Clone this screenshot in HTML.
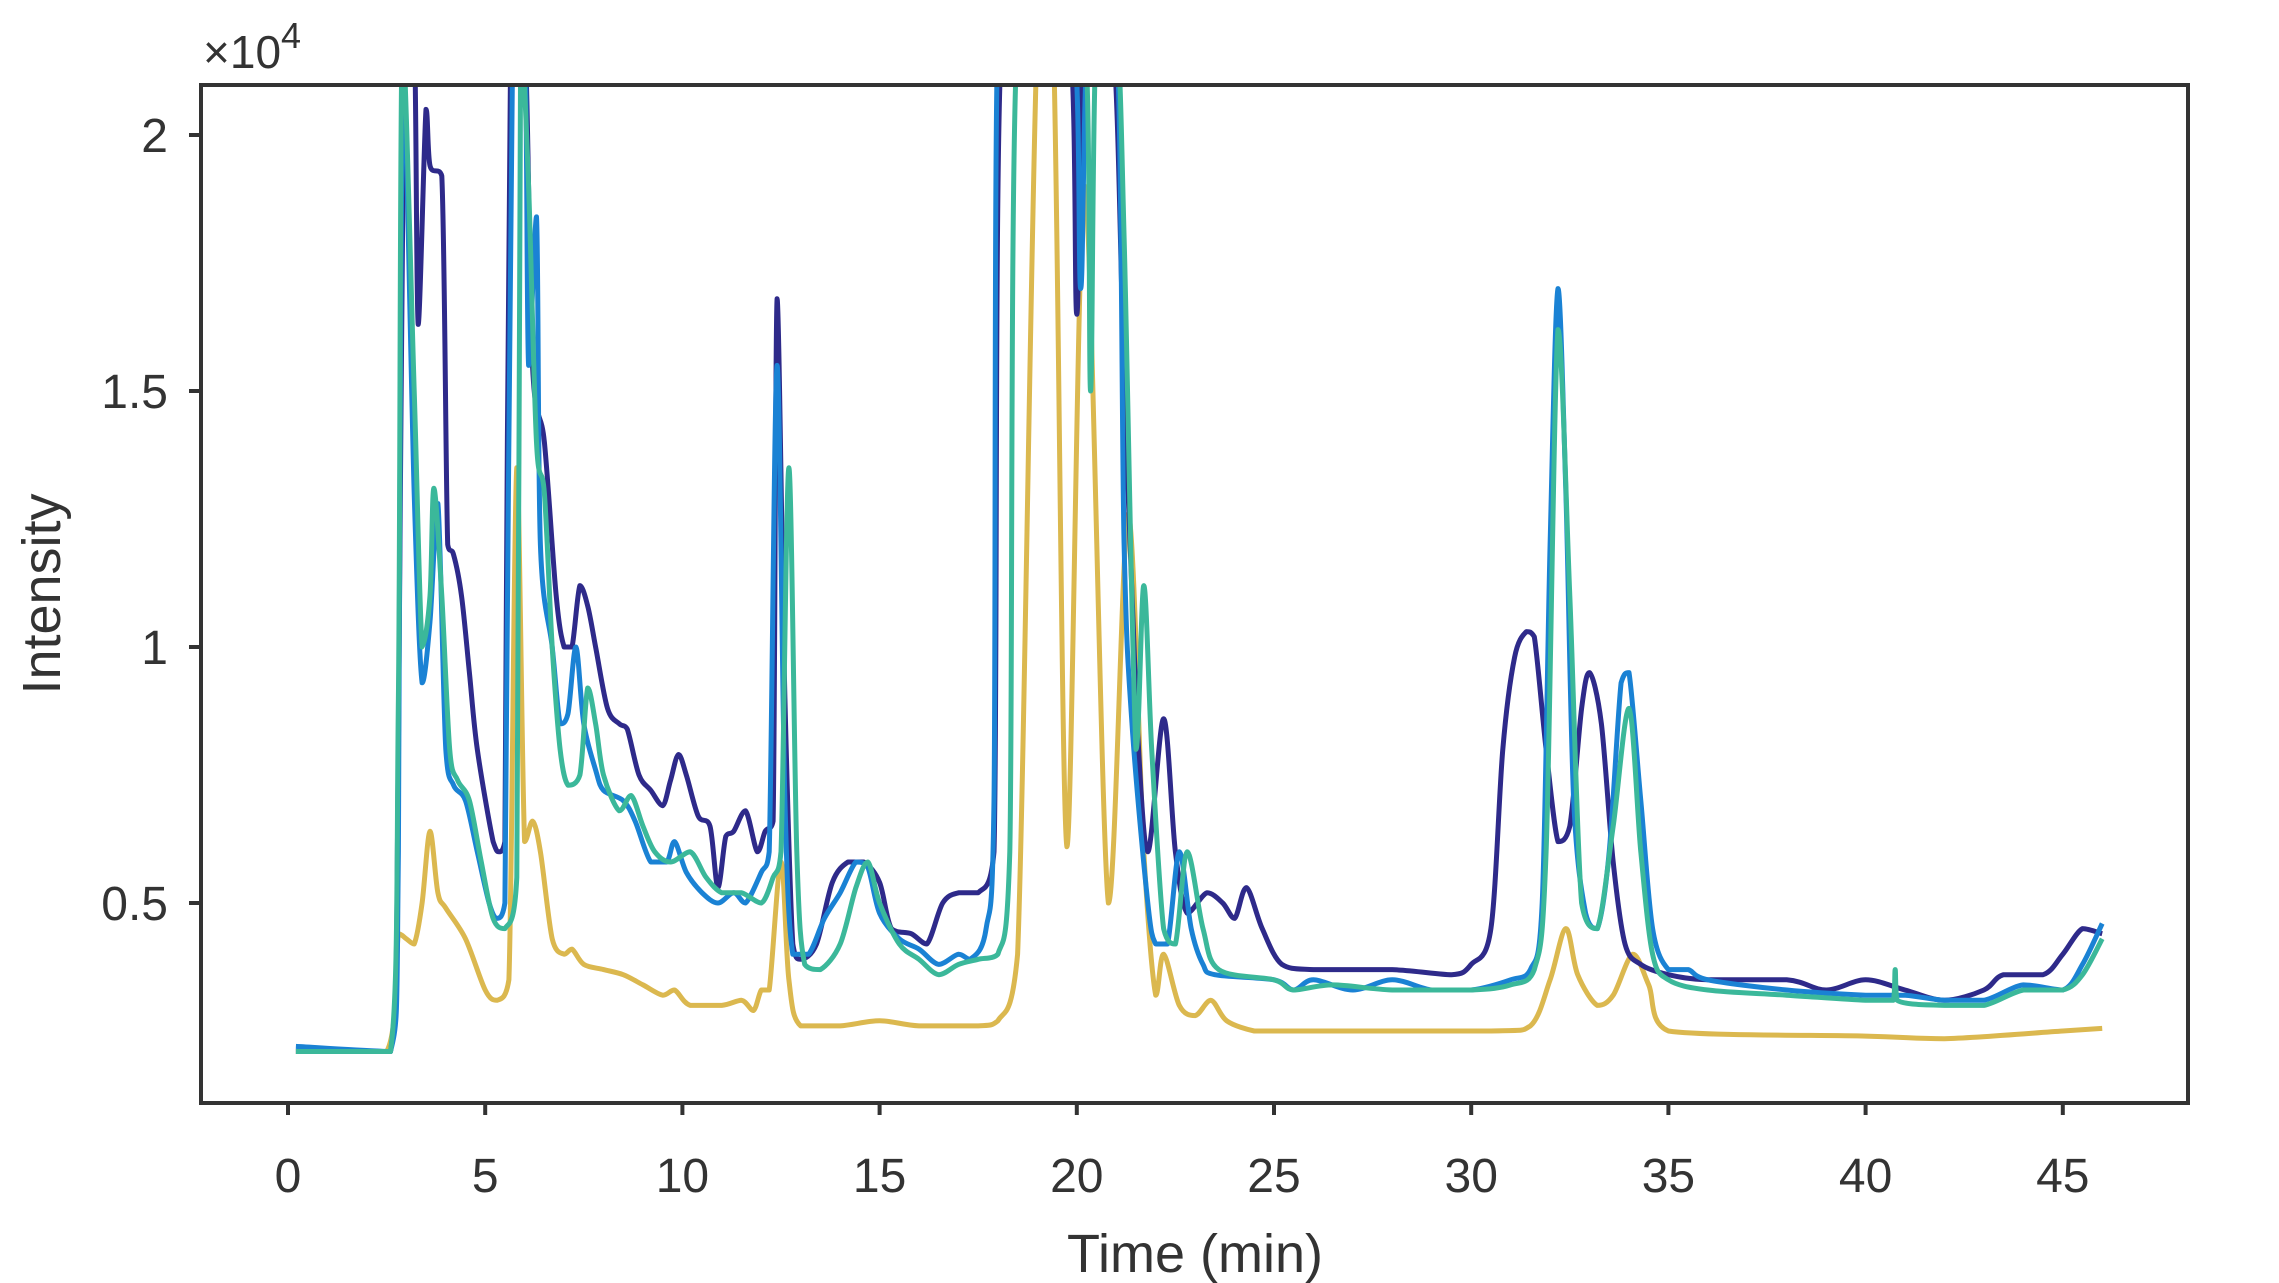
<!DOCTYPE html>
<html><head><meta charset="utf-8"><style>
html,body{margin:0;padding:0;background:#fff;}
svg{display:block;font-family:"Liberation Sans",sans-serif;}
</style></head><body>
<svg id="chart" width="2279" height="1283" viewBox="0 0 2279 1283" xmlns="http://www.w3.org/2000/svg">
<defs><clipPath id="plotclip"><rect x="203" y="87" width="1983" height="1014"/></clipPath></defs>
<g id="series" clip-path="url(#plotclip)"></g>
<rect x="201" y="85" width="1987" height="1018" fill="none" stroke="#333" stroke-width="4"/>
<g id="xticks"></g>
<g id="yticks"></g>
<text x="203" y="68" font-size="46" fill="#333">×10<tspan font-size="36" dy="-20">4</tspan></text>
<text x="1195" y="1272" font-size="54" fill="#333" text-anchor="middle">Time (min)</text>
<text transform="translate(60,594) rotate(-90)" font-size="54" fill="#333" text-anchor="middle">Intensity</text>
</svg>
<script>
const xTicks=[0,5,10,15,20,25,30,35,40,45];
const yTicks=[0.5,1,1.5,2];
const yTickLabels=["0.5","1","1.5","2"];
const goldT=[0.2,2.5,2.8,3.0,3.2,3.4,3.6,3.8,4.0,4.5,5.0,5.3,5.6,5.8,6.0,6.2,6.4,6.7,7.0,7.2,7.5,8.0,8.5,9.0,9.5,9.8,10.2,11,11.5,11.8,12.0,12.2,12.5,12.7,13.0,14,15,16,17.5,18,18.5,19.0,19.4,19.75,20.2,20.8,21.3,21.7,22.0,22.2,22.6,23.0,23.4,23.8,24.5,25,30.5,31.5,32.0,32.4,32.7,33.2,33.6,34.1,34.5,35,40,42,45,46];
const goldV=[0.21,0.21,0.44,0.43,0.42,0.5,0.64,0.52,0.49,0.43,0.33,0.31,0.35,1.35,0.62,0.66,0.6,0.43,0.4,0.41,0.38,0.37,0.36,0.34,0.32,0.33,0.3,0.3,0.31,0.29,0.33,0.33,0.58,0.35,0.26,0.26,0.27,0.26,0.26,0.27,0.4,2.2,2.2,0.61,1.9,0.5,1.26,0.6,0.32,0.4,0.3,0.28,0.31,0.27,0.25,0.25,0.25,0.26,0.35,0.45,0.36,0.3,0.32,0.4,0.34,0.25,0.24,0.235,0.25,0.255];
const navyT=[0.2,2.6,2.8,2.95,3.2,3.3,3.5,3.6,3.9,4.05,4.2,4.4,4.6,4.8,5.2,5.35,5.5,5.65,6.0,6.2,6.5,6.8,7.0,7.2,7.4,7.6,7.8,8.1,8.4,8.6,8.9,9.2,9.5,9.7,9.9,10.1,10.4,10.7,10.9,11.1,11.3,11.6,11.9,12.1,12.3,12.4,12.6,12.8,13.0,13.4,13.8,14.2,14.6,15.0,15.3,15.8,16.2,16.6,17.0,17.5,17.9,18.1,19.8,20.0,20.2,20.9,21.2,21.5,21.8,22.2,22.5,22.8,23.3,23.7,24.0,24.3,24.7,25.2,26,28,29.5,30,30.5,30.8,31.1,31.4,31.6,31.9,32.2,32.5,32.8,33.0,33.3,33.6,33.9,34.3,35,36,38,39,40,41,42,43,43.5,44.5,45,45.5,46];
const navyV=[0.21,0.21,0.8,2.2,2.2,1.63,2.05,1.94,1.92,1.2,1.18,1.1,0.95,0.8,0.62,0.6,0.62,2.2,2.2,1.55,1.4,1.1,1.0,1.0,1.12,1.08,1.0,0.88,0.85,0.84,0.75,0.72,0.69,0.74,0.79,0.75,0.67,0.65,0.53,0.63,0.64,0.68,0.6,0.64,0.66,1.68,0.9,0.42,0.39,0.42,0.54,0.58,0.58,0.54,0.45,0.44,0.42,0.5,0.52,0.52,0.6,2.2,2.2,1.65,2.2,2.2,1.53,0.9,0.6,0.86,0.6,0.48,0.52,0.5,0.47,0.53,0.45,0.38,0.37,0.37,0.36,0.38,0.45,0.8,0.98,1.03,1.02,0.8,0.62,0.65,0.88,0.95,0.85,0.58,0.42,0.38,0.36,0.35,0.35,0.33,0.35,0.33,0.31,0.33,0.36,0.36,0.4,0.45,0.44];
const blueT=[0.2,2.6,2.8,2.9,3.2,3.4,3.6,3.8,4.0,4.2,4.5,4.8,5.1,5.3,5.5,5.7,6.0,6.1,6.3,6.4,6.7,6.9,7.1,7.3,7.5,7.8,8.0,8.5,8.8,9.2,9.6,9.8,10.1,10.5,10.9,11.3,11.6,12.0,12.2,12.4,12.6,12.8,13.2,13.6,14.0,14.4,14.7,15.0,15.5,16.0,16.5,17.0,17.3,17.7,17.9,18.0,19.9,20.1,20.3,21.0,21.2,21.4,21.8,22.0,22.3,22.6,22.9,23.2,23.5,25,25.5,26,27,28,29,30,31,31.5,31.8,32.0,32.2,32.4,32.6,32.9,33.2,33.5,33.8,34.0,34.3,34.6,35,35.5,36,38,40,41,42,43,44,45,45.5,46];
const blueV=[0.22,0.21,0.6,2.2,1.3,0.93,1.05,1.28,0.8,0.73,0.7,0.6,0.5,0.47,0.5,2.2,2.2,1.55,1.84,1.2,1.0,0.85,0.87,1.0,0.85,0.76,0.72,0.7,0.66,0.58,0.58,0.62,0.56,0.52,0.5,0.52,0.5,0.56,0.6,1.55,0.7,0.4,0.4,0.47,0.52,0.58,0.57,0.48,0.43,0.41,0.38,0.4,0.39,0.45,0.7,2.2,2.2,1.7,2.2,2.2,1.2,0.85,0.5,0.42,0.42,0.6,0.45,0.38,0.36,0.35,0.33,0.35,0.33,0.35,0.33,0.33,0.35,0.37,0.5,1.2,1.7,1.3,0.7,0.48,0.45,0.6,0.93,0.95,0.7,0.45,0.37,0.37,0.35,0.33,0.32,0.32,0.31,0.31,0.34,0.33,0.38,0.46];
const tealT=[0.2,2.6,2.8,2.9,3.2,3.4,3.6,3.7,3.9,4.1,4.3,4.6,4.9,5.2,5.5,5.8,5.9,6.1,6.3,6.5,6.7,6.9,7.1,7.4,7.6,7.8,8.0,8.4,8.7,9.0,9.3,9.7,10.2,10.6,11.0,11.5,12.0,12.3,12.5,12.7,12.9,13.1,13.5,14.0,14.4,14.7,15.0,15.5,16.0,16.5,17.0,17.5,18.0,18.3,18.5,20.2,20.35,20.5,21.0,21.2,21.5,21.7,21.9,22.2,22.5,22.8,23.2,23.6,25,25.5,26.5,28,30,31,31.6,31.9,32.2,32.5,32.8,33.2,33.6,34.0,34.3,34.6,35,36,38,40,40.7,40.75,40.8,42,43,44,45,45.5,46];
const tealV=[0.21,0.21,0.9,2.2,1.5,1.0,1.1,1.31,1.1,0.8,0.74,0.7,0.58,0.47,0.45,0.55,2.2,1.9,1.4,1.3,1.0,0.8,0.73,0.75,0.92,0.85,0.75,0.68,0.71,0.65,0.6,0.58,0.6,0.55,0.52,0.52,0.5,0.55,0.6,1.35,0.6,0.38,0.37,0.42,0.53,0.58,0.5,0.42,0.39,0.36,0.38,0.39,0.4,0.6,2.2,2.2,1.5,2.2,2.2,1.8,0.8,1.12,0.8,0.45,0.42,0.6,0.45,0.37,0.35,0.33,0.34,0.33,0.33,0.34,0.37,0.6,1.62,1.1,0.5,0.45,0.65,0.88,0.6,0.4,0.35,0.33,0.32,0.31,0.31,0.37,0.31,0.3,0.3,0.33,0.33,0.36,0.43];
const NS='http://www.w3.org/2000/svg';
const xS=t=>288+t*39.44;
const yS=v=>135+(2-v)*512;
const sg=document.getElementById('series');
function clamp(v,a,b){return Math.min(Math.max(v,Math.min(a,b)),Math.max(a,b));}
function smoothPath(T,V){
  const P=T.map((t,i)=>[xS(t),yS(V[i])]);
  let d='M'+P[0][0].toFixed(1)+','+P[0][1].toFixed(1);
  for(let i=0;i<P.length-1;i++){
    const p0=P[Math.max(0,i-1)],p1=P[i],p2=P[i+1],p3=P[Math.min(P.length-1,i+2)];
    const k=0.16;
    const c1=[clamp(p1[0]+(p2[0]-p0[0])*k,p1[0],p2[0]),clamp(p1[1]+(p2[1]-p0[1])*k,p1[1],p2[1])];
    const c2=[clamp(p2[0]-(p3[0]-p1[0])*k,p1[0],p2[0]),clamp(p2[1]-(p3[1]-p1[1])*k,p1[1],p2[1])];
    d+=' C'+c1[0].toFixed(1)+','+c1[1].toFixed(1)+' '+c2[0].toFixed(1)+','+c2[1].toFixed(1)+' '+p2[0].toFixed(1)+','+p2[1].toFixed(1);
  }
  return d;
}
function drawLine(T,V,color,name){
  const p=document.createElementNS(NS,'path');
  p.setAttribute('d',smoothPath(T,V));
  p.setAttribute('fill','none');p.setAttribute('stroke',color);p.setAttribute('stroke-width','5');p.setAttribute('stroke-linejoin','round');
  
  
  sg.appendChild(p);
}
drawLine(goldT,goldV,'#dbb84f','series-gold');
drawLine(navyT,navyV,'#2e2a8a','series-navy');
drawLine(blueT,blueV,'#1a82d4','series-blue');
drawLine(tealT,tealV,'#3bb89a','series-teal');
const xg=document.getElementById('xticks');
xTicks.forEach(t=>{
  const l=document.createElementNS(NS,'line');
  l.setAttribute('x1',xS(t));l.setAttribute('x2',xS(t));l.setAttribute('y1',1103);l.setAttribute('y2',1115);
  l.setAttribute('stroke','#333');l.setAttribute('stroke-width','4');
  
  
  xg.appendChild(l);
  const tx=document.createElementNS(NS,'text');
  tx.setAttribute('x',xS(t));tx.setAttribute('y',1192);tx.setAttribute('font-size','48');tx.setAttribute('fill','#333');tx.setAttribute('text-anchor','middle');
  tx.textContent=t;
  
  
  xg.appendChild(tx);
});
const yg=document.getElementById('yticks');
yTicks.forEach((v,i)=>{
  const l=document.createElementNS(NS,'line');
  l.setAttribute('x1',189);l.setAttribute('x2',201);l.setAttribute('y1',yS(v));l.setAttribute('y2',yS(v));
  l.setAttribute('stroke','#333');l.setAttribute('stroke-width','4');
  
  
  yg.appendChild(l);
  const tx=document.createElementNS(NS,'text');
  tx.setAttribute('x',168);tx.setAttribute('y',yS(v)+17);tx.setAttribute('font-size','48');tx.setAttribute('fill','#333');tx.setAttribute('text-anchor','end');
  tx.textContent=yTickLabels[i];
  
  
  yg.appendChild(tx);
});
</script>
</body></html>
